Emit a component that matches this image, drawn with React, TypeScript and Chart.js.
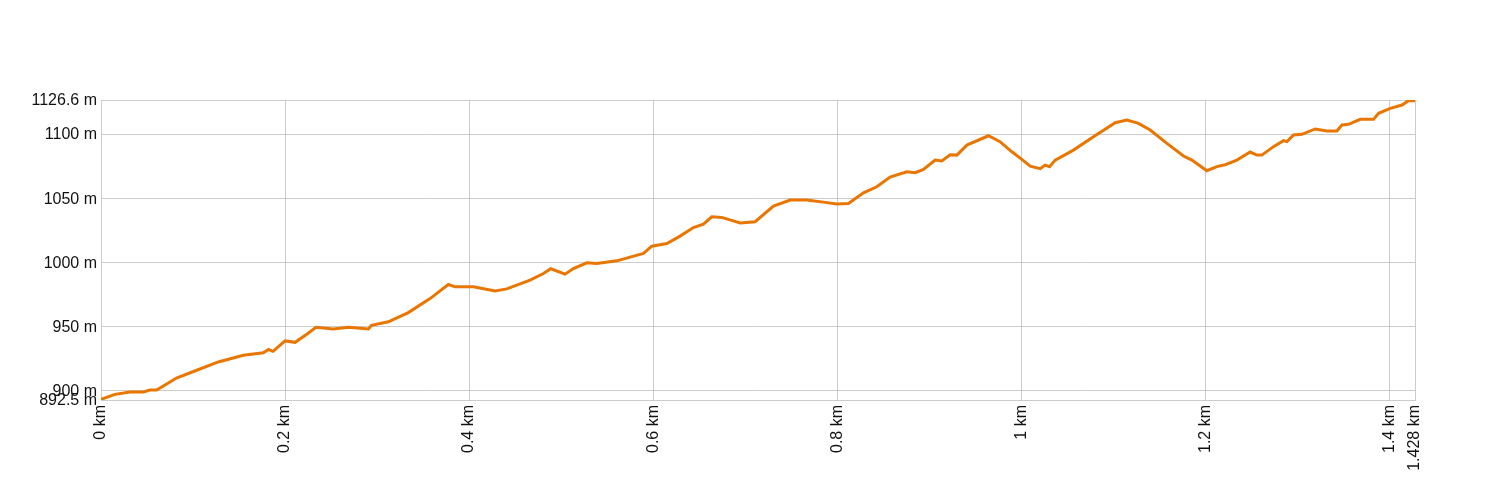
import React, { useEffect, useRef } from "react";
import { Chart, registerables } from "chart.js";

Chart.register(...registerables);

const distKm: number[] = [
  0, 0.0152, 0.0315, 0.046, 0.0533, 0.0605, 0.082, 0.104, 0.1275, 0.1547, 0.1764, 0.182, 0.187,
  0.2, 0.211, 0.2236, 0.2337, 0.2525, 0.269, 0.2906, 0.294, 0.3123, 0.334, 0.3576, 0.3775, 0.3848,
  0.4047, 0.4283, 0.441, 0.4663, 0.4808, 0.4888, 0.5043, 0.5134, 0.528, 0.5388, 0.5605, 0.5895,
  0.5986, 0.6149, 0.6293, 0.6438, 0.6547, 0.6638, 0.6746, 0.6946, 0.7109, 0.7308, 0.749, 0.767,
  0.785, 0.7996, 0.8123, 0.8286, 0.8431, 0.8576, 0.8757, 0.8848, 0.8938, 0.9065, 0.9138, 0.9228,
  0.9301, 0.941, 0.9645, 0.977, 0.9899, 1.0007, 1.0098, 1.0207, 1.026, 1.0308, 1.037, 1.0568,
  1.0786, 1.1022, 1.1149, 1.1275, 1.1402, 1.1584, 1.1764, 1.1855, 1.2018, 1.2127, 1.2217, 1.2344,
  1.2489, 1.2562, 1.2616, 1.2742, 1.2851, 1.2888, 1.296, 1.3051, 1.3196, 1.3323, 1.3431, 1.3486,
  1.3558, 1.3685, 1.383, 1.3884, 1.4011, 1.4138, 1.421, 1.428,
];

const elevM: number[] = [
  893.0, 896.9, 898.7, 898.7, 900.3, 900.3, 909.6, 915.7, 922.2, 927.4, 929.3, 931.9, 930.5,
  938.6, 937.5, 943.8, 949.3, 948.0, 949.3, 948.0, 950.8, 953.5, 960.7, 971.6, 982.6, 980.8,
  980.8, 977.6, 979.2, 986.0, 991.2, 994.9, 990.7, 995.1, 999.6, 999.1, 1001.1, 1006.9,
  1012.5, 1014.6, 1020.4, 1027.1, 1029.7, 1035.4, 1035.0, 1030.7, 1031.6, 1043.8, 1048.5, 1048.5,
  1046.9, 1045.4, 1045.9, 1054.2, 1058.9, 1066.4, 1070.6, 1069.9, 1072.5, 1079.7, 1079.0, 1083.9,
  1083.6, 1091.4, 1098.7, 1094.1, 1086.2, 1080.3, 1075.0, 1073.0, 1075.8, 1074.6, 1079.7, 1087.5,
  1097.9, 1108.9, 1111.0, 1108.4, 1103.2, 1092.8, 1082.9, 1079.7, 1071.4, 1074.6, 1076.1, 1079.7,
  1086.0, 1083.6, 1083.6, 1090.2, 1094.9, 1094.1, 1099.3, 1099.8, 1104.0, 1102.4, 1102.4, 1107.1,
  1107.6, 1111.5, 1111.5, 1116.2, 1120.1, 1122.7, 1126.1, 1126.1,
];

const xTicks: number[] = [0, 0.2, 0.4, 0.6, 0.8, 1, 1.2, 1.4, 1.428];
const yTicks: number[] = [892.5, 900, 950, 1000, 1050, 1100, 1126.6];

export default function App() {
  const ref = useRef<HTMLCanvasElement | null>(null);

  useEffect(() => {
    if (!ref.current) return;
    const font = { family: "'Liberation Sans', Arial, sans-serif", size: 16 };
    const chart = new Chart(ref.current, {
      type: "line",
      data: {
        datasets: [
          {
            data: distKm.map((x, i) => ({ x, y: elevM[i] })),
            borderColor: "rgb(232,118,0)",
            borderWidth: 3,
            pointRadius: 0,
            tension: 0,
            fill: false,
          },
        ],
      },
      options: {
        responsive: false,
        animation: false,
        events: [],
        layout: { padding: { top: 100, right: 85, left: 0, bottom: 0 } },
        plugins: { legend: { display: false }, tooltip: { enabled: false } },
        scales: {
          x: {
            type: "linear",
            min: xTicks[0],
            max: xTicks[xTicks.length - 1],
            afterBuildTicks: (s: any) => {
              s.ticks = xTicks.map((v) => ({ value: v }));
            },
            afterFit: (s: any) => {
              s.height = 100;
            },
            grid: { color: "#cccccc", drawTicks: false, lineWidth: 1 },
            border: { color: "#cccccc" },
            ticks: {
              autoSkip: false,
              maxRotation: 90,
              minRotation: 90,
              padding: 5,
              color: "#111",
              font,
              callback: (v: any) => `${v} km`,
            },
          },
          y: {
            type: "linear",
            min: yTicks[0],
            max: yTicks[yTicks.length - 1],
            afterBuildTicks: (s: any) => {
              s.ticks = yTicks.map((v) => ({ value: v }));
            },
            afterFit: (s: any) => {
              s.width = 101;
            },
            grid: { color: "#cccccc", drawTicks: false, lineWidth: 1 },
            border: { color: "#cccccc" },
            ticks: {
              autoSkip: false,
              padding: 4,
              labelOffset: 1,
              color: "#111",
              font,
              callback: (v: any) => `${v} m`,
            },
          },
        },
      },
    });
    return () => chart.destroy();
  }, []);

  return (
    <div style={{ position: "absolute", left: 0, top: 0, width: 1500, height: 500, background: "#fff" }}>
      <canvas ref={ref} width={1500} height={500} style={{ width: 1500, height: 500 }} />
    </div>
  );
}
